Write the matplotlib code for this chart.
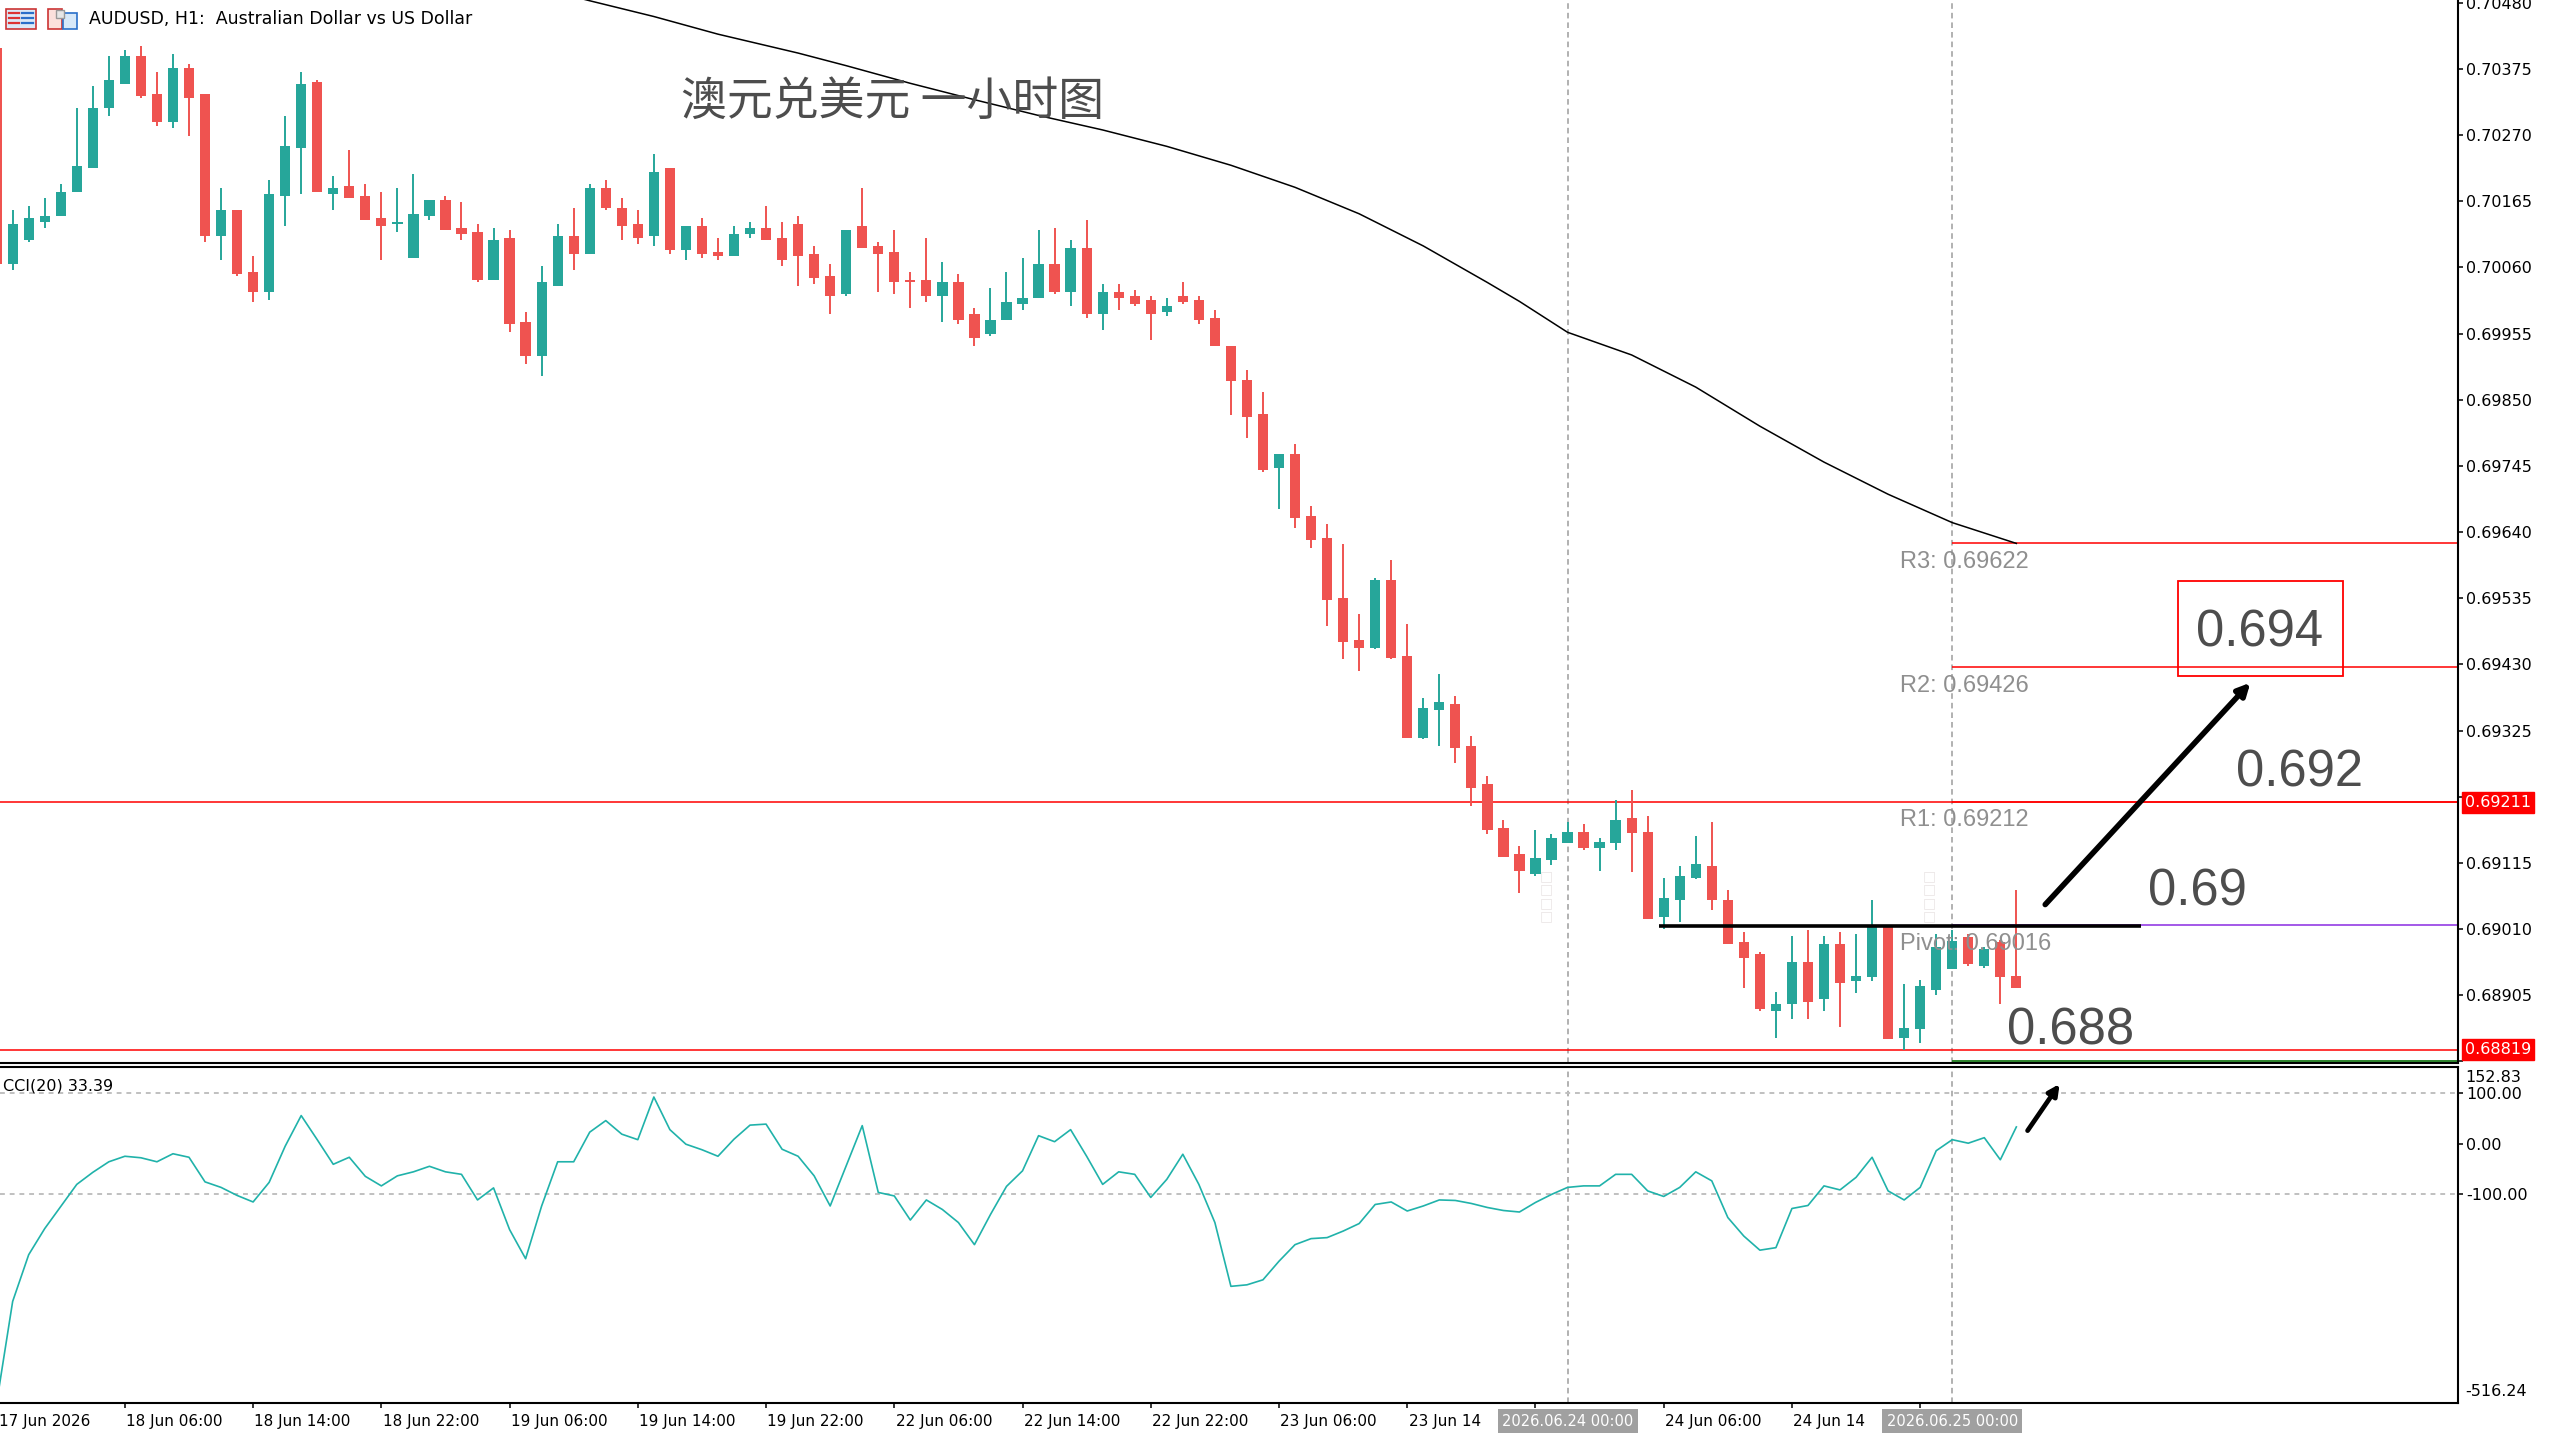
import numpy as np
import matplotlib
matplotlib.use("Agg")
import matplotlib.pyplot as plt
from matplotlib.patches import Rectangle

# H1 bars: index 0 = 17 Jun 23:00, index -1 = 17 Jun 22:00 (partly off screen)
bar_index = list(range(-1, 126))

opens = [0.70408,
         0.70065, 0.70103, 0.70132, 0.70141, 0.70180, 0.70218, 0.70313, 0.70351, 0.70395, 0.70335,
         0.70291, 0.70376, 0.70335, 0.70110, 0.70151, 0.70053, 0.70021, 0.70173, 0.70249, 0.70354,
         0.70176, 0.70189, 0.70173, 0.70138, 0.70129, 0.70075, 0.70141, 0.70167, 0.70122, 0.70116,
         0.70040, 0.70107, 0.69973, 0.69919, 0.70030, 0.70110, 0.70081, 0.70186, 0.70154, 0.70129,
         0.70110, 0.70218, 0.70088, 0.70126, 0.70084, 0.70078, 0.70113, 0.70122, 0.70107, 0.70129,
         0.70081, 0.70046, 0.70018, 0.70126, 0.70094, 0.70084, 0.70040, 0.70040, 0.70015, 0.70037,
         0.69986, 0.69954, 0.69976, 0.70002, 0.70011, 0.70065, 0.70021, 0.70091, 0.69986, 0.70021,
         0.70015, 0.70008, 0.69989, 0.70015, 0.70008, 0.69980, 0.69936, 0.69881, 0.69828, 0.69742,
         0.69764, 0.69666, 0.69631, 0.69535, 0.69469, 0.69456, 0.69564, 0.69444, 0.69314, 0.69358,
         0.69367, 0.69301, 0.69240, 0.69170, 0.69129, 0.69098, 0.69120, 0.69146, 0.69164, 0.69139,
         0.69146, 0.69186, 0.69164, 0.69029, 0.69057, 0.69091, 0.69110, 0.69056, 0.68990, 0.68971,
         0.68880, 0.68892, 0.68958, 0.68899, 0.68986, 0.68927, 0.68934, 0.69013, 0.68838, 0.68851,
         0.68914, 0.68946, 0.68998, 0.68951, 0.68990, 0.68936]
highs = [0.70412,
         0.70151, 0.70157, 0.70170, 0.70192, 0.70313, 0.70348, 0.70395, 0.70405, 0.70411, 0.70370,
         0.70399, 0.70383, 0.70335, 0.70186, 0.70151, 0.70078, 0.70199, 0.70300, 0.70370, 0.70357,
         0.70205, 0.70246, 0.70192, 0.70180, 0.70186, 0.70208, 0.70167, 0.70173, 0.70164, 0.70129,
         0.70122, 0.70119, 0.69989, 0.70062, 0.70129, 0.70154, 0.70192, 0.70199, 0.70170, 0.70151,
         0.70240, 0.70218, 0.70126, 0.70138, 0.70107, 0.70126, 0.70132, 0.70157, 0.70132, 0.70141,
         0.70094, 0.70065, 0.70119, 0.70186, 0.70100, 0.70119, 0.70053, 0.70107, 0.70068, 0.70049,
         0.69995, 0.70027, 0.70053, 0.70075, 0.70119, 0.70122, 0.70103, 0.70135, 0.70034, 0.70034,
         0.70024, 0.70015, 0.70011, 0.70037, 0.70015, 0.69992, 0.69936, 0.69897, 0.69863, 0.69764,
         0.69780, 0.69681, 0.69653, 0.69621, 0.69510, 0.69567, 0.69596, 0.69494, 0.69377, 0.69415,
         0.69380, 0.69317, 0.69253, 0.69183, 0.69142, 0.69168, 0.69161, 0.69180, 0.69177, 0.69155,
         0.69215, 0.69231, 0.69189, 0.69091, 0.69110, 0.69158, 0.69180, 0.69072, 0.69005, 0.68974,
         0.68910, 0.68999, 0.69009, 0.68999, 0.69005, 0.69002, 0.69056, 0.69013, 0.68923, 0.68929,
         0.69003, 0.69009, 0.69003, 0.68982, 0.68993, 0.69072]
lows = [0.70060,
        0.70056, 0.70100, 0.70122, 0.70141, 0.70180, 0.70218, 0.70300, 0.70351, 0.70329, 0.70284,
        0.70281, 0.70268, 0.70100, 0.70072, 0.70046, 0.70005, 0.70008, 0.70126, 0.70176, 0.70180,
        0.70151, 0.70170, 0.70135, 0.70072, 0.70116, 0.70075, 0.70135, 0.70119, 0.70103, 0.70037,
        0.70040, 0.69957, 0.69907, 0.69888, 0.70030, 0.70056, 0.70081, 0.70151, 0.70103, 0.70097,
        0.70094, 0.70081, 0.70072, 0.70075, 0.70072, 0.70078, 0.70107, 0.70103, 0.70062, 0.70030,
        0.70034, 0.69986, 0.70015, 0.70091, 0.70021, 0.70018, 0.69995, 0.70005, 0.69973, 0.69970,
        0.69935, 0.69951, 0.69976, 0.69992, 0.70011, 0.70018, 0.69999, 0.69980, 0.69961, 0.69992,
        0.69999, 0.69945, 0.69983, 0.70002, 0.69970, 0.69935, 0.69825, 0.69790, 0.69736, 0.69676,
        0.69647, 0.69615, 0.69491, 0.69438, 0.69419, 0.69454, 0.69438, 0.69314, 0.69311, 0.69301,
        0.69273, 0.69206, 0.69161, 0.69124, 0.69067, 0.69095, 0.69111, 0.69146, 0.69136, 0.69102,
        0.69136, 0.69101, 0.69026, 0.69010, 0.69022, 0.69089, 0.69040, 0.68987, 0.68917, 0.68880,
        0.68838, 0.68867, 0.68867, 0.68880, 0.68854, 0.68908, 0.68927, 0.68835, 0.68819, 0.68829,
        0.68905, 0.68946, 0.68951, 0.68948, 0.68892, 0.68917]
closes = [0.70065,
          0.70129, 0.70138, 0.70141, 0.70180, 0.70221, 0.70313, 0.70357, 0.70395, 0.70332, 0.70291,
          0.70376, 0.70329, 0.70110, 0.70151, 0.70049, 0.70021, 0.70176, 0.70253, 0.70351, 0.70180,
          0.70186, 0.70170, 0.70135, 0.70126, 0.70132, 0.70145, 0.70167, 0.70119, 0.70113, 0.70040,
          0.70103, 0.69970, 0.69919, 0.70037, 0.70110, 0.70081, 0.70186, 0.70154, 0.70126, 0.70107,
          0.70211, 0.70088, 0.70126, 0.70081, 0.70078, 0.70113, 0.70122, 0.70103, 0.70072, 0.70078,
          0.70043, 0.70015, 0.70119, 0.70091, 0.70081, 0.70037, 0.70037, 0.70015, 0.70037, 0.69976,
          0.69948, 0.69976, 0.70005, 0.70011, 0.70065, 0.70021, 0.70091, 0.69986, 0.70021, 0.70011,
          0.70002, 0.69986, 0.69999, 0.70005, 0.69976, 0.69935, 0.69879, 0.69822, 0.69739, 0.69764,
          0.69663, 0.69628, 0.69533, 0.69466, 0.69456, 0.69564, 0.69440, 0.69314, 0.69361, 0.69370,
          0.69298, 0.69234, 0.69168, 0.69124, 0.69102, 0.69123, 0.69155, 0.69164, 0.69139, 0.69148,
          0.69183, 0.69162, 0.69026, 0.69059, 0.69094, 0.69113, 0.69056, 0.68987, 0.68965, 0.68883,
          0.68891, 0.68958, 0.68895, 0.68986, 0.68924, 0.68936, 0.69013, 0.68835, 0.68853, 0.68920,
          0.68982, 0.68991, 0.68955, 0.68979, 0.68934, 0.68917]

cci = [-516.24,
       -314, -221, -169, -125, -81, -57, -36, -25, -28, -36,
       -20, -27, -76, -87, -103, -116, -77, -5, 56, 8,
       -41, -27, -65, -84, -64, -56, -45, -56, -61, -112,
       -88, -171, -229, -124, -36, -36, 23, 46, 19, 8,
       93, 28, -1, -12, -25, 9, 37, 39, -11, -25,
       -64, -124, -44, 36, -97, -104, -152, -112, -131, -157,
       -201, -141, -85, -54, 16, 4, 28, -25, -81, -56,
       -61, -107, -71, -21, -81, -157, -284, -281, -271, -234,
       -201, -189, -187, -174, -159, -121, -116, -134, -124, -112,
       -113, -119, -127, -133, -136, -117, -101, -87, -84, -84,
       -61, -61, -94, -105, -87, -56, -74, -147, -184, -212,
       -207, -129, -123, -84, -92, -67, -27, -94, -112, -87,
       -14, 8, 1, 12, -32, 33.39]

# long moving average
ma_bars = [34, 36, 40, 44, 49, 52, 56, 60, 64, 68, 72, 76, 80, 84, 88, 92, 94, 97,
           101, 105, 109, 113, 117, 121, 125]
ma_vals = [0.70496, 0.70483, 0.70458, 0.70430, 0.70400, 0.70380, 0.70352, 0.70326,
           0.70301, 0.70278, 0.70252, 0.70222, 0.70187, 0.70145, 0.70094, 0.70036,
           0.70006, 0.69957, 0.69921, 0.69870, 0.69808, 0.69751, 0.69700, 0.69655, 0.69622]

pivot_names = ["R3", "R2", "R1", "Pivot"]
pivot_vals = [0.69622, 0.69426, 0.69212, 0.69016]
s1_val = 0.68801
hline_vals = [0.69211, 0.68819]

price_ticks = [0.70480, 0.70375, 0.70270, 0.70165, 0.70060, 0.69955, 0.69850, 0.69745,
               0.69640, 0.69535, 0.69430, 0.69325, 0.69220, 0.69115, 0.69010, 0.68905, 0.68800]
hidden_ticks = [0.69220, 0.68800]

# labels that the date boxes cover are cut to what stays visible
time_tick_bars = [7, 15, 23, 31, 39, 47, 55, 63, 71, 79, 87, 95, 103, 111, 119]
time_tick_labels = ["18 Jun 06:00", "18 Jun 14:00", "18 Jun 22:00", "19 Jun 06:00",
                    "19 Jun 14:00", "19 Jun 22:00", "22 Jun 06:00", "22 Jun 14:00",
                    "22 Jun 22:00", "23 Jun 06:00", "23 Jun 14", "",
                    "24 Jun 06:00", "24 Jun 14", ""]
day_bars = [97, 121]
day_labels = ["2026.06.24 00:00", "2026.06.25 00:00"]

BULL = "#26a69a"
BEAR = "#ef5350"
GREY_TXT = "#4d4d4d"

fig = plt.figure(figsize=(25.54, 14.36), dpi=100, facecolor="white")
ax = fig.add_axes([0, 0.2597, 0.9624, 0.7403])
ax2 = fig.add_axes([0, 0.0230, 0.9624, 0.2340])

x = np.array(bar_index)
o = np.array(opens)
h = np.array(highs)
l = np.array(lows)
c = np.array(closes)
colors = np.where(c >= o, BULL, BEAR)

ax.vlines(x, l, h, colors=colors, lw=1.4, zorder=3)
min_body = 0.000025
body_h = np.abs(c - o)
body_bottom = np.where(body_h < min_body, (o + c) / 2 - min_body / 2, np.minimum(o, c))
ax.bar(x, np.maximum(body_h, min_body), bottom=body_bottom, width=0.64,
       color=colors, linewidth=0, zorder=4)

ax.plot(ma_bars, ma_vals, color="black", lw=1.1, zorder=5)

# horizontal levels
for v in hline_vals:
    ax.axhline(v, color="#ff0000", lw=1.1, zorder=2)
for name, v in zip(pivot_names, pivot_vals):
    col = "#8a2be2" if name == "Pivot" else "#ff0000"
    ax.hlines(v, 121, 160, color=col, lw=1.1, zorder=2)
    ax.annotate(f"{name}: {v:.5f}", xy=(117.75, v), xytext=(0, -5.5),
                textcoords="offset points", ha="left", va="top", fontsize=17,
                color="#8f8f8f", family="Liberation Sans", zorder=6)
ax.hlines(s1_val, 121, 160, color="#1a7a1a", lw=1.3, zorder=2)

# drawn objects
ax.hlines(0.69015, 102.7, 132.8, color="black", lw=2.6, zorder=7)
ax.add_patch(Rectangle((135.1, 0.69411), 10.3, 0.00151, fill=False,
                       edgecolor="#ff0000", lw=1.3, zorder=7))
for txt, bx, by in [("0.694", 136.2, 0.69459), ("0.692", 138.7, 0.69237),
                    ("0.69", 133.2, 0.69047), ("0.688", 124.4, 0.68827)]:
    ax.text(bx, by, txt, fontsize=36.5, color=GREY_TXT, family="Liberation Sans",
            ha="left", va="baseline", zorder=8)
ax.annotate("", xy=(139.6, 0.69401), xytext=(126.8, 0.69049),
            arrowprops=dict(arrowstyle="-|>", lw=4.0, color="black",
                            mutation_scale=18, shrinkA=0, shrinkB=0), zorder=8)

for bx in [95.7, 119.6]:
    ax.text(bx, 0.69062, "\u25a1\n\u25a1\n\u25a1\n\u25a1", fontsize=10, color="#ebe6e6",
            ha="center", va="center", linespacing=0.95, family="DejaVu Sans", zorder=1)

for a in (ax, ax2):
    for b in day_bars:
        a.axvline(b, color="#a0a0a0", lw=1.15, dashes=(3.5, 2.5), zorder=1)

ax.set_xlim(-0.79, 152.55)
ax.set_ylim(0.687975, 0.704842)
ax.set_xticks([])
ax.yaxis.tick_right()
ax.set_yticks(price_ticks)
ax.set_yticklabels(["" if v in hidden_ticks else f"{v:.5f}" for v in price_ticks])
ax.tick_params(axis="y", direction="out", length=3.6, width=1.1, pad=2.5,
               labelsize=11.5, colors="black")
for s in ("left", "top"):
    ax.spines[s].set_visible(False)
for s in ("right", "bottom"):
    ax.spines[s].set_linewidth(1.5)

for v in hline_vals:
    ax.annotate(f"{v:.5f}", xy=(1, v), xycoords=("axes fraction", "data"),
                xytext=(5, 0), textcoords="offset points", ha="left", va="center",
                fontsize=11.5, color="white", annotation_clip=False, zorder=20,
                bbox=dict(boxstyle="square,pad=0.2", fc="#ff0000", ec="#ff0000"))

# CCI panel
ax2.plot(bar_index, cci, color="#20b2aa", lw=1.2, zorder=3)
for lvl in (100, -100):
    ax2.axhline(lvl, color="#c0c0c0", lw=1.4, dashes=(2.5, 2.5), zorder=1)
ax2.annotate("", xy=(127.7, 119), xytext=(125.7, 26),
             arrowprops=dict(arrowstyle="-|>", lw=3.4, color="black",
                             mutation_scale=16, shrinkA=0, shrinkB=0), zorder=8)
ax2.set_xlim(-0.79, 152.55)
ax2.set_ylim(-516.24, 152.83)
ax2.yaxis.tick_right()
ax2.set_yticks([100, 0, -100])
ax2.set_yticklabels(["100.00", "0.00", "-100.00"])
ax2.tick_params(axis="y", direction="out", length=3.6, width=1.1, pad=2.5,
                labelsize=11.5)
ax2.set_xticks(time_tick_bars)
ax2.set_xticklabels([])
ax2.tick_params(axis="x", direction="out", length=3.6, width=1.1)
ax2.spines["left"].set_visible(False)
for s in ("right", "bottom", "top"):
    ax2.spines[s].set_linewidth(1.5)
ax2.annotate("152.83", xy=(1, 1), xycoords="axes fraction", xytext=(5, -2),
             textcoords="offset points", ha="left", va="top", fontsize=11.5,
             annotation_clip=False)
ax2.annotate("-516.24", xy=(1, 0), xycoords="axes fraction", xytext=(5, 3),
             textcoords="offset points", ha="left", va="bottom", fontsize=11.5,
             annotation_clip=False)
ax2.text(0.0012, 0.965, "CCI(20) 33.39", transform=ax2.transAxes, fontsize=11.5,
         ha="left", va="top")

ax2.annotate("17 Jun 2026", xy=(-0.79, 0), xycoords=("data", "axes fraction"),
             xytext=(-1, -13), textcoords="offset points", ha="left", va="center",
             fontsize=11, annotation_clip=False)
for b, lab in zip(time_tick_bars, time_tick_labels):
    if not lab:
        continue
    ax2.annotate(lab, xy=(b, 0), xycoords=("data", "axes fraction"),
                 xytext=(1, -13), textcoords="offset points", ha="left",
                 va="center", fontsize=11, annotation_clip=False, zorder=5)
for b, lab in zip(day_bars, day_labels):
    ax2.annotate(lab, xy=(b, 0), xycoords=("data", "axes fraction"),
                 xytext=(0, -13), textcoords="offset points", ha="center",
                 va="center", fontsize=10.5, color="white", annotation_clip=False,
                 zorder=10, bbox=dict(boxstyle="square,pad=0.3", fc="#a0a0a0", ec="none"))

# header
fig.text(89 / 2554, 1 - 19 / 1436, "AUDUSD, H1:  Australian Dollar vs US Dollar",
         fontsize=12.5, va="center", ha="left")
fig.patches.append(Rectangle((6 / 2554, 1 - 29 / 1436), 30 / 2554, 20 / 1436,
                             transform=fig.transFigure, fc="#dbe9f7", ec="#cc3333", lw=1.2))
for k in range(3):
    yy = 1 - (13 + 5 * k) / 1436
    fig.lines.append(plt.Line2D([9 / 2554, 19 / 2554], [yy, yy], transform=fig.transFigure,
                                color="#dd3333", lw=1.6))
    fig.lines.append(plt.Line2D([22 / 2554, 33 / 2554], [yy, yy], transform=fig.transFigure,
                                color="#2a6fc9", lw=1.6))
fig.patches.append(Rectangle((48 / 2554, 1 - 29 / 1436), 14 / 2554, 20 / 1436,
                             transform=fig.transFigure, fc="#fbe0dc", ec="#cc3333", lw=1.2))
fig.patches.append(Rectangle((63 / 2554, 1 - 29 / 1436), 14 / 2554, 16 / 1436,
                             transform=fig.transFigure, fc="#d7e8f8", ec="#2a6fc9", lw=1.2))
fig.patches.append(Rectangle((56 / 2554, 1 - 18 / 1436), 8 / 2554, 8 / 1436,
                             transform=fig.transFigure, fc="#e6e6e6", ec="#999999", lw=1.0))

fig.text(681 / 2554, 1 - 102 / 1436, "澳元兑美元 一小时图", fontsize=33, color=GREY_TXT,
         va="center", ha="left", family=["Noto Sans CJK SC", "DejaVu Sans"])

fig.savefig("out.png", dpi=100, facecolor="white")
